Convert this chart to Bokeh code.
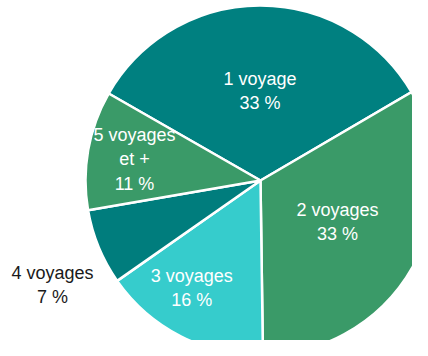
import math
from bokeh.plotting import figure
from bokeh.models import Range1d, ColumnDataSource
from bokeh.core.properties import value
from bokeh.embed import file_html
from bokeh.resources import INLINE

categories = ["1 voyage", "2 voyages", "3 voyages", "4 voyages", "5 voyages\net +"]
percents = [33.3, 33.2, 15.5, 7.0, 11.0]
pct_labels = ["33 %", "33 %", "16 %", "7 %", "11 %"]
colors = ["#008080", "#3a9a68", "#36cccc", "#007d7d", "#3a9a68"]
label_colors = ["white", "white", "white", "#1a1a1a", "white"]
label_radius = [0.51, 0.50, 0.73, 1.33, 0.73]
label_angle_shift = [0.0, 1.0, -5.5, 4.3, 0.5]

W, H = 412, 340
cx, cy, r = 260, 160, 175
start_deg = 150.2

p = figure(width=W, height=H, x_range=Range1d(0, W), y_range=Range1d(0, H),
           output_backend="svg", toolbar_location=None, min_border=0)
p.axis.visible = False
p.grid.visible = False
p.outline_line_color = None

total = sum(percents)
starts, ends, lx, ly, texts = [], [], [], [], []
a = start_deg
for i, v in enumerate(percents):
    sweep = v / total * 360.0
    s, e = a, a - sweep
    starts.append(math.radians(s))
    ends.append(math.radians(e))
    mid = math.radians((s + e) / 2 + label_angle_shift[i])
    lx.append(cx + label_radius[i] * r * math.cos(mid))
    ly.append(cy + label_radius[i] * r * math.sin(mid))
    texts.append(categories[i] + "\n" + pct_labels[i])
    a = e

src = ColumnDataSource(dict(start=starts, end=ends, color=colors,
                            x=lx, y=ly, text=texts, tcolor=label_colors))
p.wedge(x=cx, y=cy, radius=r, start_angle="start", end_angle="end",
        direction="clock", fill_color="color", line_color="white",
        line_width=2.5, source=src)
p.text(x="x", y="y", text="text", text_color="tcolor", source=src,
       text_align="center", text_baseline="middle",
       text_font=value("Liberation Sans"), text_font_size="18px",
       text_line_height=1.21)

open("out.html", "w").write(file_html(p, INLINE))
